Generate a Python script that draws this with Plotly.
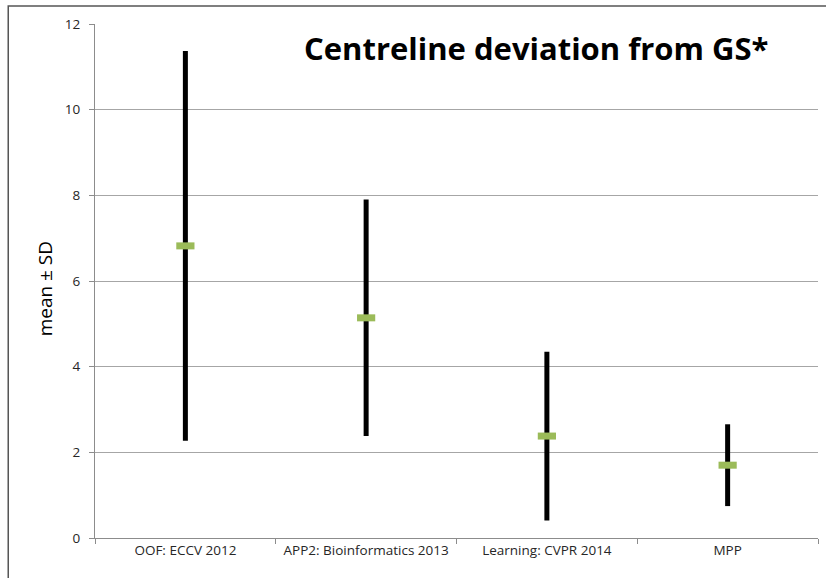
import plotly.graph_objects as go

# Methods compared and their centreline deviation statistics
methods = ["OOF: ECCV 2012", "APP2: Bioinformatics 2013", "Learning: CVPR 2014", "MPP"]
mean_dev = [6.82, 5.14, 2.38, 1.70]
sd_dev = [4.55, 2.76, 1.97, 0.955]
y_ticks = [0, 2, 4, 6, 8, 10, 12]

fig = go.Figure()

fig.add_trace(go.Scatter(
    x=methods,
    y=mean_dev,
    mode="markers",
    error_y=dict(type="data", array=sd_dev, visible=True,
                 color="black", thickness=5, width=0),
    marker=dict(symbol="line-ew-open", size=13, color="#9BBB59",
                line=dict(color="#9BBB59", width=7)),
    showlegend=False,
    hoverinfo="skip",
))

axis_font = dict(family="Open Sans, sans-serif", size=13.5, color="#262626")

fig.update_xaxes(
    type="category",
    range=[-0.5, 3.5],
    tickson="boundaries",
    ticks="outside", ticklen=5, tickcolor="#8c8c8c",
    showline=True, linecolor="#8c8c8c", linewidth=1,
    showgrid=False,
    tickfont=axis_font,
    zeroline=False,
)
fig.update_yaxes(
    range=[0, 12],
    tickvals=y_ticks,
    ticks="outside", ticklen=5, tickcolor="#8c8c8c",
    showline=True, linecolor="#8c8c8c", linewidth=1,
    showgrid=True, gridcolor="#a6a6a6", gridwidth=1,
    tickfont=axis_font,
    ticklabelstandoff=6,
    zeroline=False,
)

fig.add_annotation(
    text="<b>Centreline deviation from GS*</b>",
    xref="paper", yref="paper", x=0.61, y=0.953,
    xanchor="center", yanchor="middle", showarrow=False,
    font=dict(family="Open Sans, sans-serif", size=31, color="black"),
)
fig.add_annotation(
    text="mean ± SD",
    xref="paper", yref="paper", x=-0.069, y=0.484,
    xanchor="center", yanchor="middle", showarrow=False, textangle=-90,
    font=dict(family="Open Sans, sans-serif", size=19, color="black"),
)

# Chart-area frame
fig.add_shape(
    type="rect", xref="paper", yref="paper",
    x0=-0.120, x1=1.05, y0=-0.2, y1=1.035,
    line=dict(color="#555555", width=1.5), fillcolor="rgba(0,0,0,0)",
    layer="above",
)

fig.update_layout(
    width=826, height=578,
    margin=dict(l=95, r=8, t=24, b=40),
    plot_bgcolor="white", paper_bgcolor="white",
)

fig.write_html("out.html")
